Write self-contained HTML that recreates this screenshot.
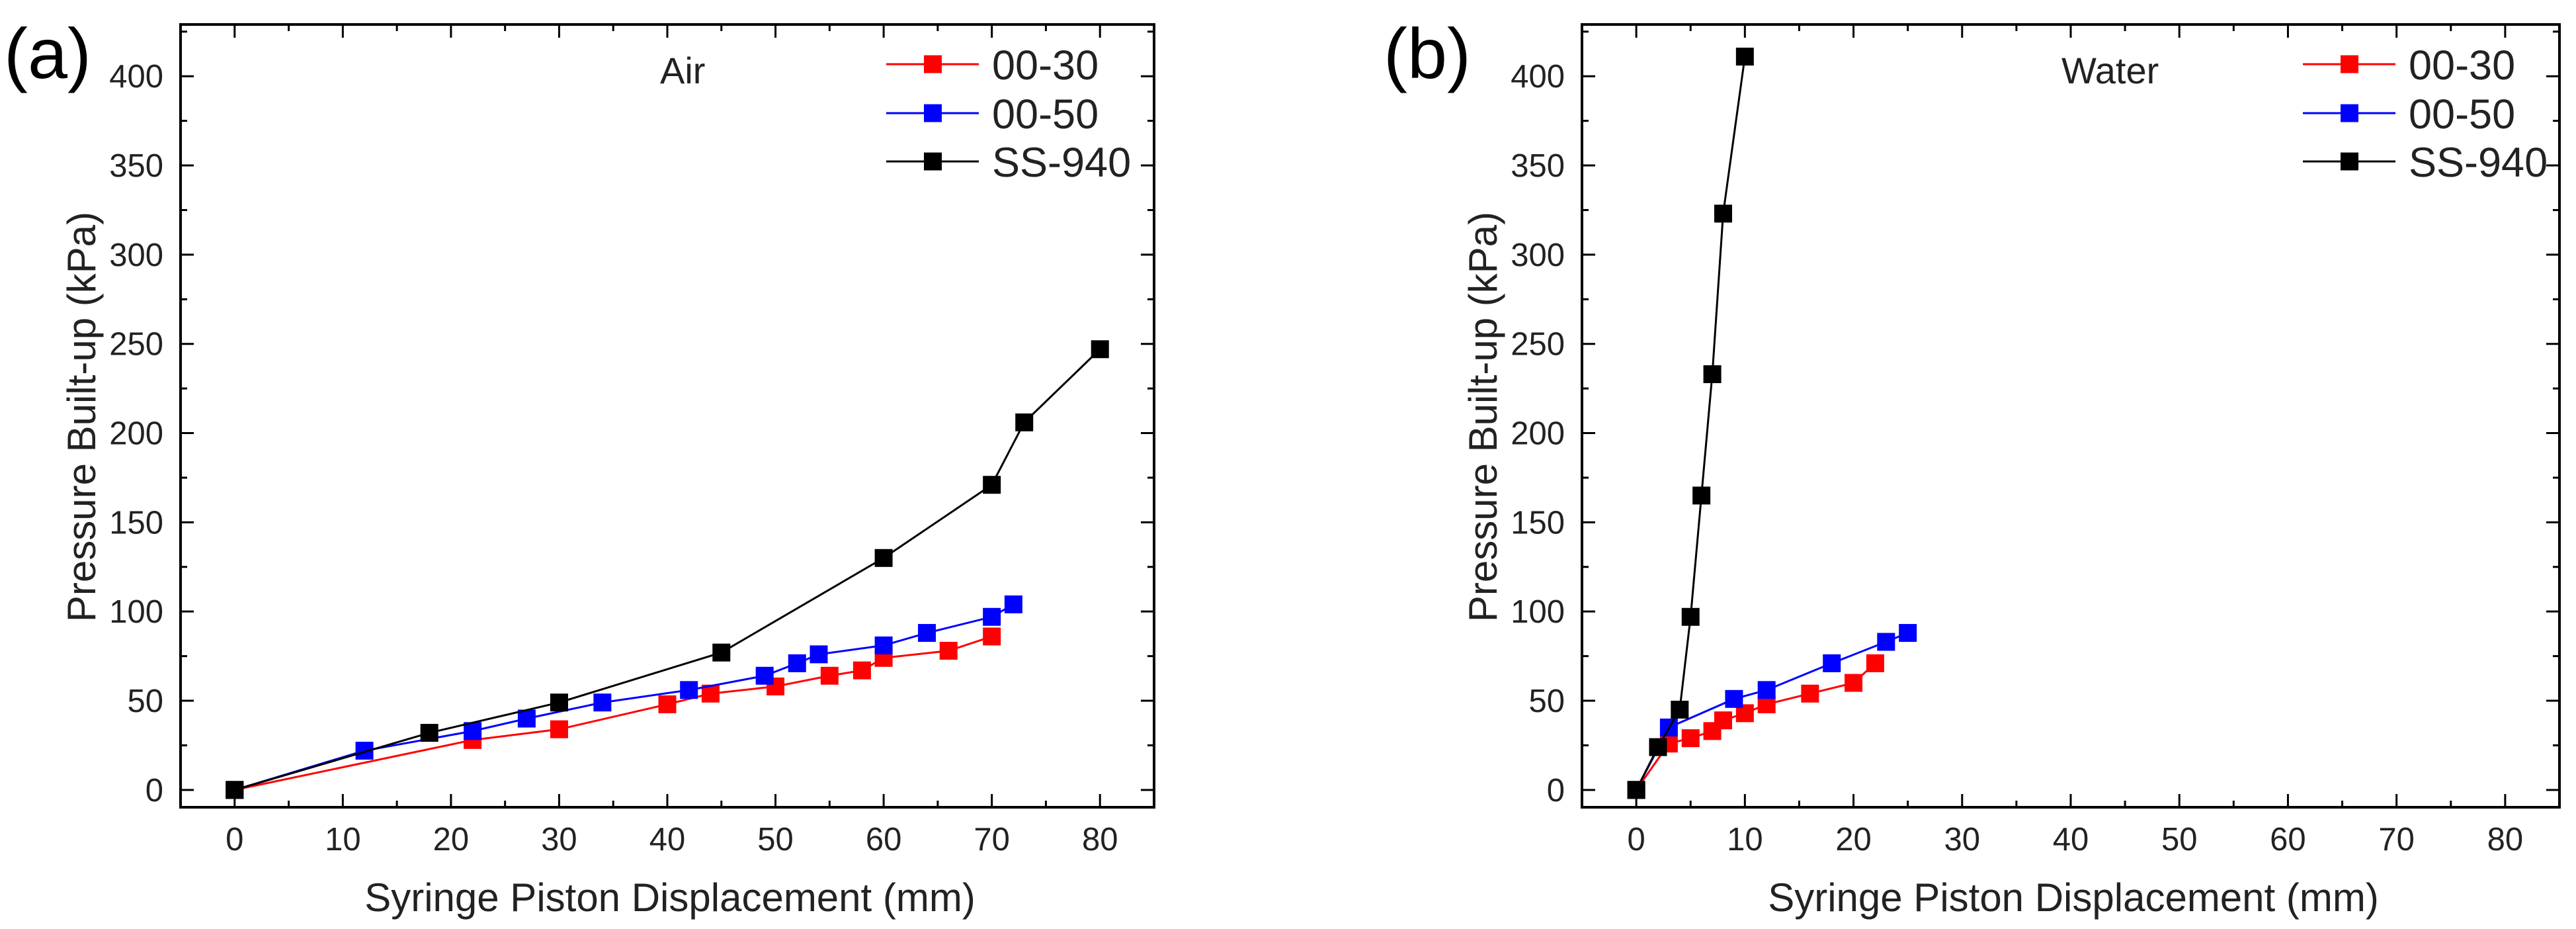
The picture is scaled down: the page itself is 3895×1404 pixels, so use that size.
<!DOCTYPE html>
<html><head><meta charset="utf-8"><style>
html,body{margin:0;padding:0;background:#fff;}
svg{display:block;font-family:"Liberation Sans",Arial,sans-serif;}
</style></head><body>
<svg id="chart" width="3895" height="1404" viewBox="0 0 3895 1404"></svg>
<script>
// Panel (a) Air data
const airX030 = [0, 22, 30, 40, 44, 50, 55, 58, 60, 66, 70];
const airY030 = [0, 28, 34, 48, 54, 58, 64, 67, 74, 78, 86];
const airX050 = [0, 12, 22, 27, 34, 42, 49, 52, 54, 60, 64, 70, 72];
const airY050 = [0, 22, 33, 40, 49, 56, 64, 71, 76, 81, 88, 97, 104];
const airXss = [0, 18, 30, 45, 60, 70, 73, 80];
const airYss = [0, 32, 49, 77, 130, 171, 206, 247];
// Panel (b) Water data
const watX030 = [0, 3, 5, 7, 8, 10, 12, 16, 20, 22];
const watY030 = [0, 26, 29, 33, 39, 43, 48, 54, 60, 71];
const watX050 = [0, 3, 9, 12, 18, 23, 25];
const watY050 = [0, 35, 51, 56, 71, 83, 88];
const watXss = [0, 2, 4, 5, 6, 7, 8, 10];
const watYss = [0, 24, 45, 97, 165, 233, 323, 411];
const seriesNames = ["00-30", "00-50", "SS-940"];
const seriesColors = ["#ff0000", "#0000ff", "#000000"];
const xTicks = [0, 10, 20, 30, 40, 50, 60, 70, 80];
const yTicks = [0, 50, 100, 150, 200, 250, 300, 350, 400];

const NS = "http://www.w3.org/2000/svg";
const svg = document.getElementById("chart");
function mk(tag, attrs, parent, text) {
  const e = document.createElementNS(NS, tag);
  for (const k in attrs) e.setAttribute(k, attrs[k]);
  if (text !== undefined) e.textContent = text;
  (parent || svg).appendChild(e);
  return e;
}

function panel(cfg) {
  const g = mk("g", {});
  
  
  const L = cfg.left, R = cfg.right, T = 37, B = 1220;
  const xmin = -5, xmax = 85, ymin = -9.7, ymax = 429;
  const sx = v => L + (v - xmin) / (xmax - xmin) * (R - L);
  const sy = v => B - (v - ymin) / (ymax - ymin) * (B - T);
  // ticks
  const tg = mk("g", {stroke: "#000", "stroke-width": 3}, g);
  
  
  for (let v = 0; v <= 85; v += 5) {
    const len = v % 10 === 0 ? 20 : 10;
    mk("line", {x1: sx(v), x2: sx(v), y1: B, y2: B - len}, tg);
    mk("line", {x1: sx(v), x2: sx(v), y1: T, y2: T + len}, tg);
  }
  for (let v = 0; v <= 425; v += 25) {
    const len = v % 50 === 0 ? 20 : 10;
    mk("line", {x1: L, x2: L + len, y1: sy(v), y2: sy(v)}, tg);
    mk("line", {x1: R, x2: R - len, y1: sy(v), y2: sy(v)}, tg);
  }
  const fr = mk("rect", {x: L, y: T, width: R - L, height: B - T, fill: "none", stroke: "#000", "stroke-width": 4}, g);
  
  
  xTicks.forEach(v => {
    const t = mk("text", {x: sx(v), y: 1285, "font-size": 49, "text-anchor": "middle", fill: "#222"}, g, String(v));
    
    
  });
  yTicks.forEach(v => {
    const t = mk("text", {x: L - 26, y: sy(v) + 17, "font-size": 49, "text-anchor": "end", fill: "#222"}, g, String(v));
    
    
  });
  const xt = mk("text", {x: (L + R) / 2 + 4, y: 1377, "font-size": 60, "text-anchor": "middle", fill: "#222"}, g, "Syringe Piston Displacement (mm)");
  
  
  const yx = L - 129;
  const yt = mk("text", {x: yx, y: 630, "font-size": 60, "text-anchor": "middle", fill: "#222", transform: `rotate(-90 ${yx} 630)`}, g, "Pressure Built-up (kPa)");
  
  
  const pl = mk("text", {x: cfg.labelX, y: 118, "font-size": 108, fill: "#000"}, g, cfg.label);
  
  
  const md = mk("text", {x: cfg.mediumX, y: 126, "font-size": 56, fill: "#222"}, g, cfg.medium);
  
  
  // series
  cfg.series.forEach((s, i) => {
    const sg = mk("g", {}, g);
    
    
    const pts = s[0].map((x, j) => sx(x) + "," + sy(s[1][j])).join(" ");
    const ln = mk("polyline", {points: pts, fill: "none", stroke: seriesColors[i], "stroke-width": 3}, sg);
    
    
    s[0].forEach((x, j) => {
      const r = mk("rect", {x: sx(x) - 13.5, y: sy(s[1][j]) - 13.5, width: 27, height: 27, fill: seriesColors[i]}, sg);
      
      
    });
  });
  // legend
  const lg = mk("g", {}, g);
  
  
  const rows = [97, 171, 244];
  seriesNames.forEach((n, i) => {
    const eg = mk("g", {}, lg);
    
    
    const x0 = cfg.legX;
    mk("line", {x1: x0, x2: x0 + 140, y1: rows[i], y2: rows[i], stroke: seriesColors[i], "stroke-width": 3}, eg);
    mk("rect", {x: x0 + 57, y: rows[i] - 13.5, width: 27, height: 27, fill: seriesColors[i]}, eg);
    mk("text", {x: x0 + 160, y: rows[i] + 23, "font-size": 63, fill: "#222"}, eg, n);
  });
}

panel({name: "panel-air", left: 273, right: 1745, label: "(a)", labelX: 6, medium: "Air", mediumX: 998, legX: 1340,
  series: [[airX030, airY030], [airX050, airY050], [airXss, airYss]]});
panel({name: "panel-water", left: 2392, right: 3870, label: "(b)", labelX: 2092, medium: "Water", mediumX: 3117, legX: 3482,
  series: [[watX030, watY030], [watX050, watY050], [watXss, watYss]]});
</script>
</body></html>
